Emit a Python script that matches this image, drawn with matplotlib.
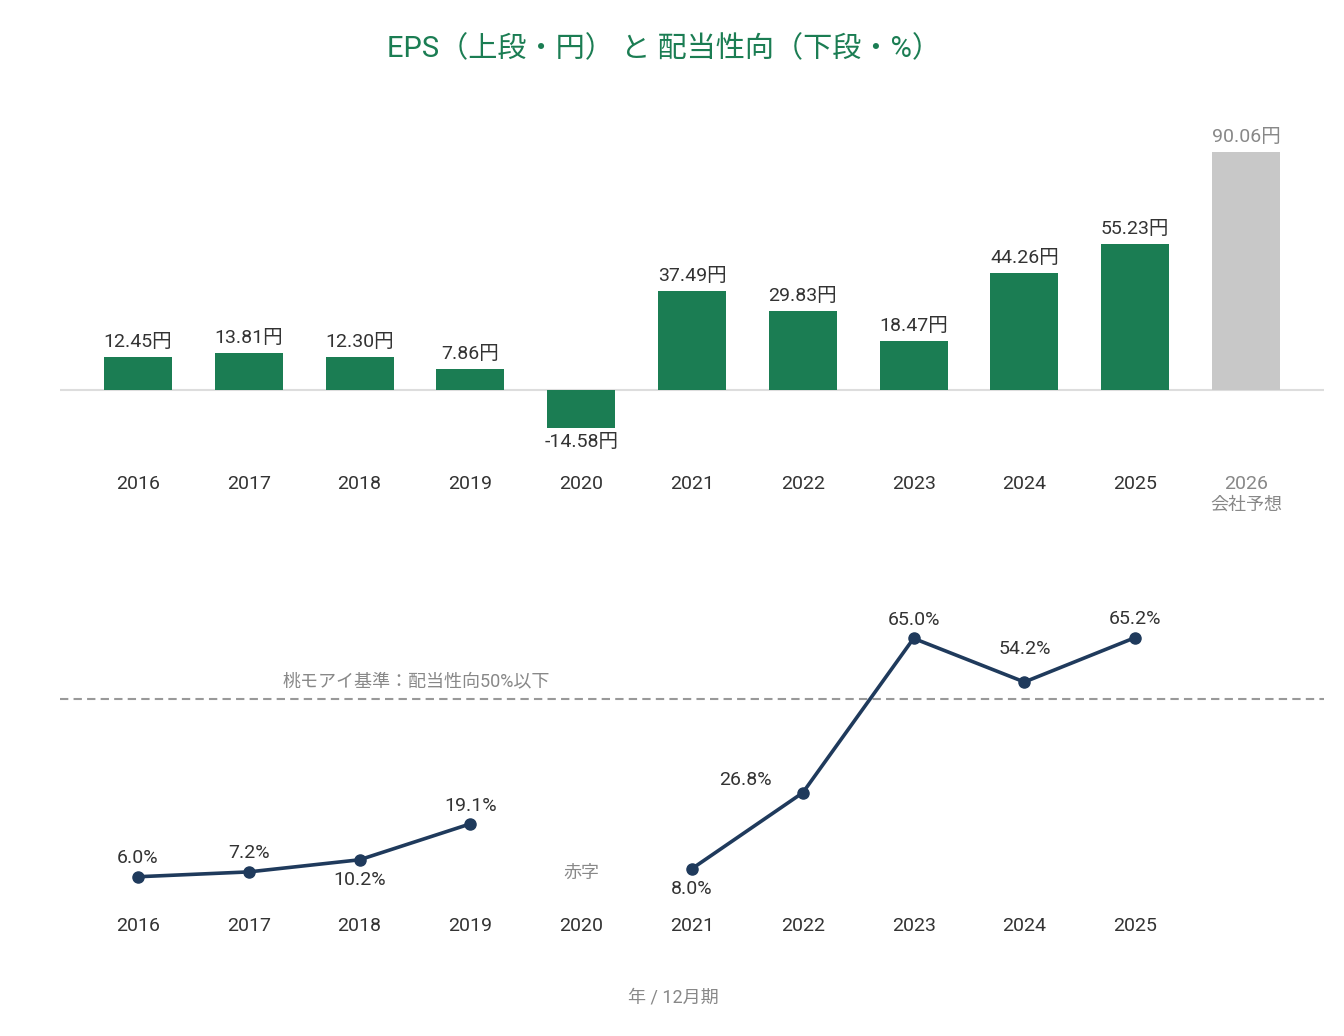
import numpy as np
import matplotlib
matplotlib.use("Agg")
import matplotlib.pyplot as plt
from matplotlib.transforms import blended_transform_factory

plt.rcParams['font.family'] = ['Roboto', 'Noto Sans CJK JP', 'DejaVu Sans']

# ---- data ----
eps_years = ['2016', '2017', '2018', '2019', '2020', '2021', '2022', '2023', '2024', '2025', '2026']
eps_values = [12.45, 13.81, 12.30, 7.86, -14.58, 37.49, 29.83, 18.47, 44.26, 55.23, 90.06]
eps_labels = ['12.45円', '13.81円', '12.30円', '7.86円', '-14.58円', '37.49円', '29.83円',
              '18.47円', '44.26円', '55.23円', '90.06円']
forecast_note = '会社予想'

payout_years = ['2016', '2017', '2018', '2019', '2020', '2021', '2022', '2023', '2024', '2025']
payout_values = [6.0, 7.2, 10.2, 19.1, np.nan, 8.0, 26.8, 65.0, 54.2, 65.2]
payout_labels = ['6.0%', '7.2%', '10.2%', '19.1%', '', '8.0%', '26.8%', '65.0%', '54.2%', '65.2%']
deficit_label = '赤字'
threshold = 50
threshold_label = '桃モアイ基準：配当性向50%以下'

title = 'EPS（上段・円） と 配当性向（下段・%）'
footer = '年 / 12月期'

# ---- style ----
W, H = 1344, 1036
GREEN = '#1b7d53'
GRAY_BAR = '#c8c8c8'
NAVY = '#1f3a5c'
TEXT = '#333333'
MUTED = '#888888'
FS = 14

fig = plt.figure(figsize=(W / 100, H / 100), dpi=100)
fig.patch.set_facecolor('white')


def axes_px(x0, y0, x1, y1):
    return fig.add_axes([x0 / W, 1 - y1 / H, (x1 - x0) / W, (y1 - y0) / H])


def fy(py):
    return 1 - py / H


XLIM = (-0.704, 10.704)

# ---- top: EPS bars ----
ax1 = axes_px(60, 100, 1324, 460)
x1 = np.arange(len(eps_years))
colors = [GREEN] * (len(eps_years) - 1) + [GRAY_BAR]
ax1.bar(x1, eps_values, width=0.614, color=colors, zorder=2)
ax1.axhline(0, color='#dddddd', lw=1.5, zorder=1)
ax1.set_xlim(*XLIM)
ax1.set_ylim(-26.5, 109.7)
ax1.axis('off')
for i, (v, lab) in enumerate(zip(eps_values, eps_labels)):
    c = MUTED if i == len(eps_values) - 1 else TEXT
    if v >= 0:
        ax1.annotate(lab, (x1[i], v), xytext=(0, 15), textcoords='offset pixels',
                     ha='center', va='center', fontsize=FS, color=c)
    else:
        ax1.annotate(lab, (x1[i], v), xytext=(0, -14), textcoords='offset pixels',
                     ha='center', va='center', fontsize=FS, color=c)

tr1 = blended_transform_factory(ax1.transData, fig.transFigure)
for i, y in enumerate(eps_years):
    c = MUTED if i == len(eps_years) - 1 else TEXT
    ax1.text(x1[i], fy(484), y, transform=tr1, ha='center', va='center', fontsize=FS, color=c)
ax1.text(x1[-1], fy(505), forecast_note, transform=tr1, ha='center', va='center',
         fontsize=13, color=MUTED)

# ---- bottom: payout ratio ----
ax2 = axes_px(60, 560, 1324, 910)
x2 = np.arange(len(payout_years))
ax2.plot(x2, payout_values, color=NAVY, lw=2.6, marker='o', markersize=8, zorder=3)
ax2.axhline(threshold, color='#999999', lw=1.5, ls=(0, (4, 2.5)), zorder=1)
ax2.set_xlim(*XLIM)
ax2.set_ylim(-2.23, 84.4)
ax2.axis('off')

offsets = [(0, 19), (0, 19), (0, -20), (0, 18), (0, 0), (0, -20), (-57, 13), (0, 18), (0, 33), (0, 19)]
for i, (v, lab) in enumerate(zip(payout_values, payout_labels)):
    if np.isnan(v):
        continue
    dx, dy = offsets[i]
    ax2.annotate(lab, (x2[i], v), xytext=(dx, dy), textcoords='offset pixels',
                 ha='center', va='center', fontsize=FS, color=TEXT)

ax2.text(4, 7.0, deficit_label, ha='center', va='center', fontsize=13, color=MUTED)
ax2.annotate(threshold_label, (1.30, threshold), xytext=(0, 18), textcoords='offset pixels',
             ha='left', va='center', fontsize=13, color=MUTED)

tr2 = blended_transform_factory(ax2.transData, fig.transFigure)
for i, y in enumerate(payout_years):
    ax2.text(x2[i], fy(926), y, transform=tr2, ha='center', va='center', fontsize=FS, color=TEXT)

fig.text(664 / W, fy(49), title, ha='center', va='center', fontsize=21, color=GREEN)
fig.text(673 / W, fy(998), footer, ha='center', va='center', fontsize=13, color=MUTED)

fig.savefig('out.png', dpi=100, facecolor='white')
